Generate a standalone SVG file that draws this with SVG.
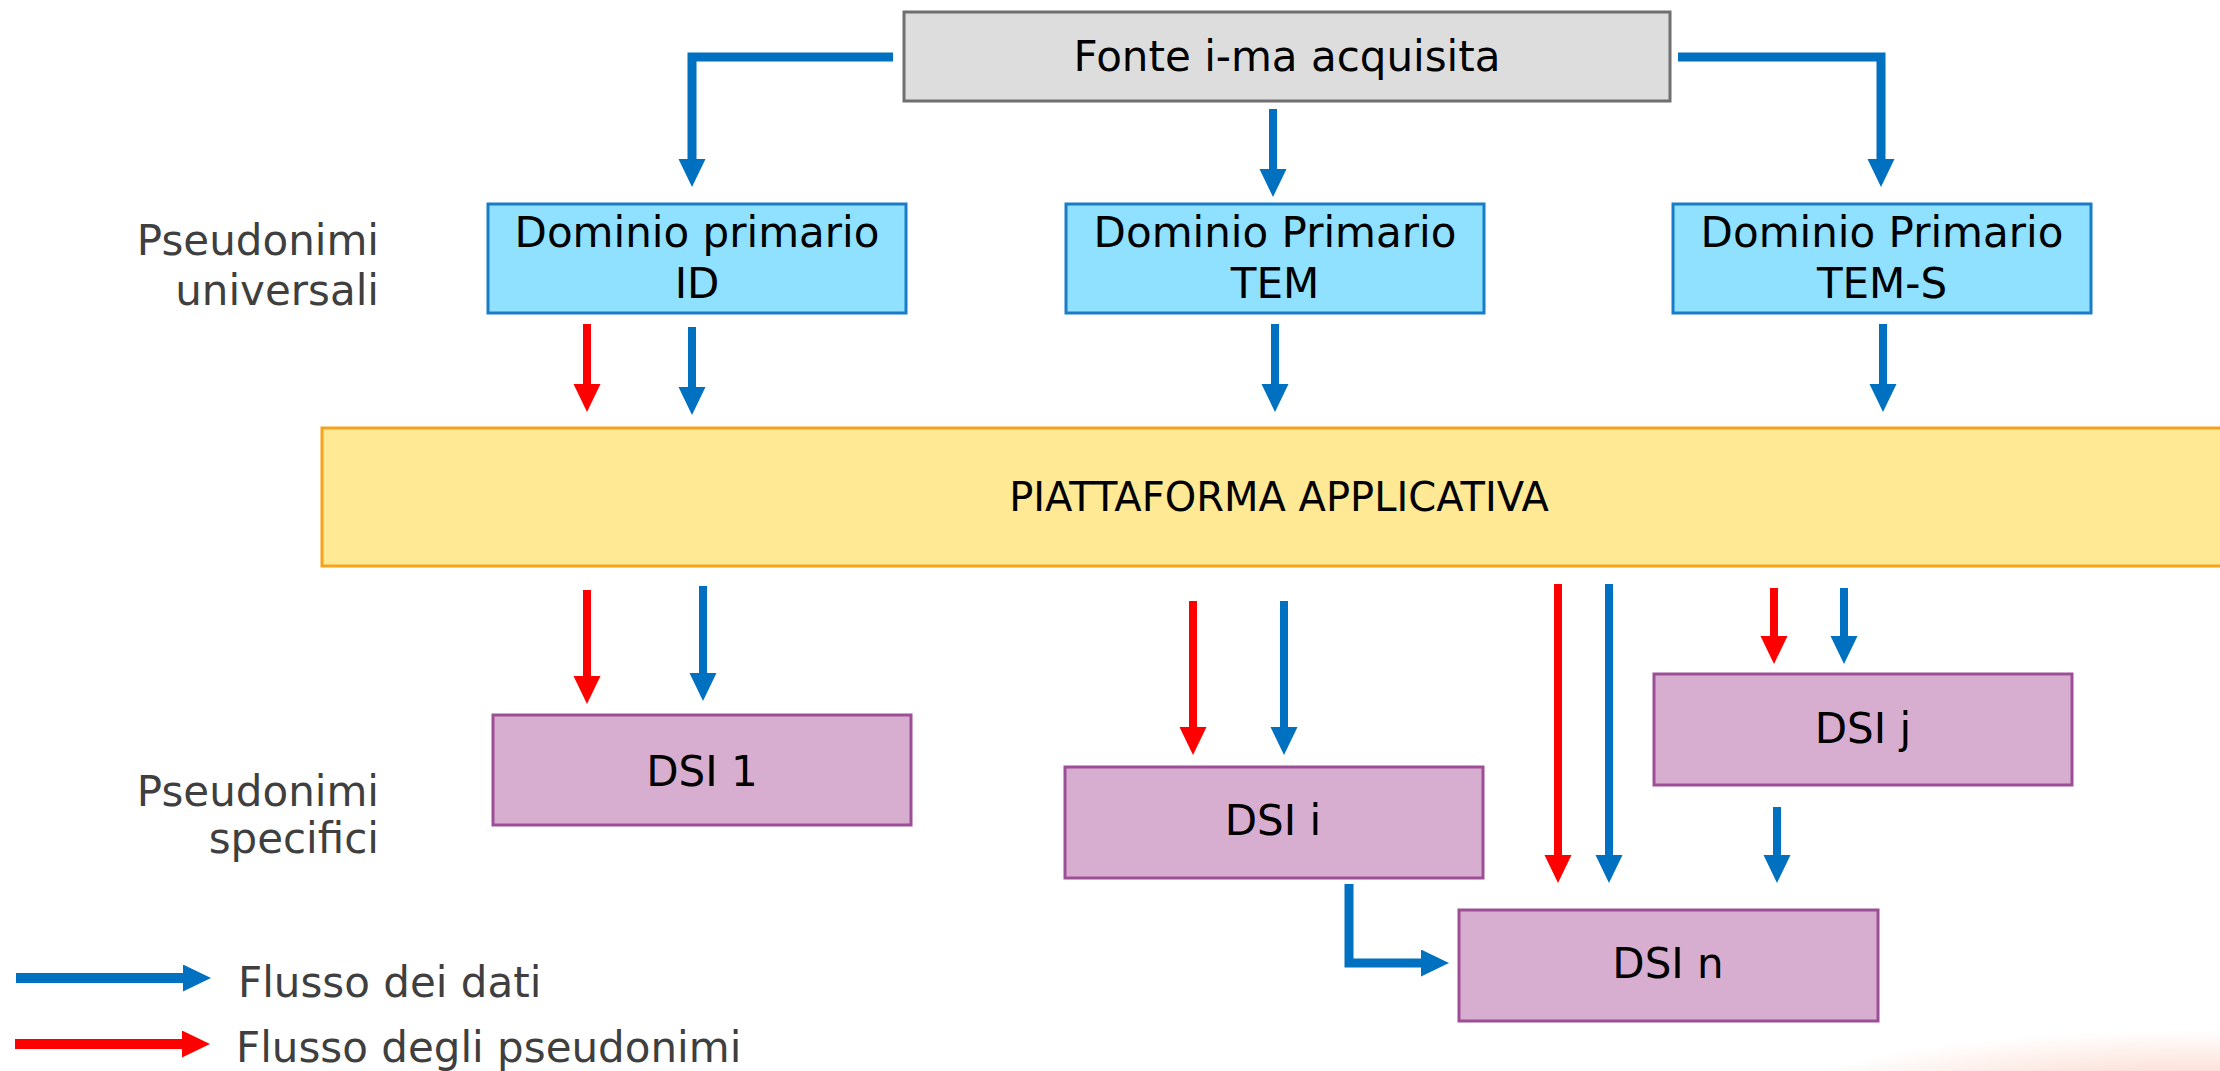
<svg xmlns="http://www.w3.org/2000/svg" width="2220" height="1071" viewBox="0 0 2220 1071">
<style>
  text { font-family: "DejaVu Sans", "Liberation Sans", sans-serif; }
  .node-text { font-size: 42px; fill: #000; text-anchor: middle; }
  .label { font-size: 42px; fill: #3f3f3f; text-anchor: end; }
  .legend { font-size: 42px; fill: #3f3f3f; }
  .src { fill: #dddddd; stroke: #6f6f6f; stroke-width: 3; }
  .dom { fill: #8fe1ff; stroke: #1a7cc6; stroke-width: 3; }
  .plat { fill: #ffe994; stroke: #f7a21b; stroke-width: 3; }
  .dsi { fill: #d8aed0; stroke: #9c4f96; stroke-width: 3; }
  .blue { stroke: #0070c0; stroke-width: 8; fill: none; marker-end: url(#ahBlue); }
  .red { stroke: #ff0000; stroke-width: 8; fill: none; marker-end: url(#ahRed); }
  .elbow { stroke-width: 9; }
</style>
<defs>
  <marker id="ahBlue" markerUnits="userSpaceOnUse" markerWidth="30" markerHeight="28" refX="1" refY="13.5" orient="auto" viewBox="0 0 30 28">
    <path d="M0,0 L28,13.5 L0,27 z" fill="#0070c0"/>
  </marker>
  <marker id="ahRed" markerUnits="userSpaceOnUse" markerWidth="30" markerHeight="28" refX="1" refY="13.5" orient="auto" viewBox="0 0 30 28">
    <path d="M0,0 L28,13.5 L0,27 z" fill="#ff0000"/>
  </marker>
  <radialGradient id="glow" cx="0.5" cy="0.5" r="0.5">
    <stop offset="0" stop-color="#f6a48a" stop-opacity="0.55"/>
    <stop offset="1" stop-color="#f6a48a" stop-opacity="0"/>
  </radialGradient>
</defs>
<rect width="2220" height="1071" fill="#ffffff"/>
<ellipse cx="2200" cy="1100" rx="420" ry="70" fill="url(#glow)"/>

<g id="label-universali">
  <text class="label" x="379" y="255">Pseudonimi</text>
  <text class="label" x="379" y="305">universali</text>
</g>
<g id="label-specifici">
  <text class="label" x="379" y="806">Pseudonimi</text>
  <text class="label" x="379" y="853">specifici</text>
</g>

<g id="fonte">
  <rect class="src" x="904" y="12" width="766" height="89"/>
  <text class="node-text" x="1287" y="71">Fonte i-ma acquisita</text>
</g>
<g id="dominio-id">
  <rect class="dom" x="488" y="204" width="418" height="109"/>
  <text class="node-text" x="697" y="247">Dominio primario</text>
  <text class="node-text" x="697" y="298">ID</text>
</g>
<g id="dominio-tem">
  <rect class="dom" x="1066" y="204" width="418" height="109"/>
  <text class="node-text" x="1275" y="247">Dominio Primario</text>
  <text class="node-text" x="1275" y="298">TEM</text>
</g>
<g id="dominio-tem-s">
  <rect class="dom" x="1673" y="204" width="418" height="109"/>
  <text class="node-text" x="1882" y="247">Dominio Primario</text>
  <text class="node-text" x="1882" y="298">TEM-S</text>
</g>
<g id="piattaforma">
  <rect class="plat" x="322" y="428" width="1920" height="138"/>
  <text class="node-text" x="1279" y="511" style="font-size:40px">PIATTAFORMA APPLICATIVA</text>
</g>
<g id="dsi-1">
  <rect class="dsi" x="493" y="715" width="418" height="110"/>
  <text class="node-text" x="702" y="786">DSI 1</text>
</g>
<g id="dsi-i">
  <rect class="dsi" x="1065" y="767" width="418" height="111"/>
  <text class="node-text" x="1273" y="835">DSI i</text>
</g>
<g id="dsi-j">
  <rect class="dsi" x="1654" y="674" width="418" height="111"/>
  <text class="node-text" x="1863" y="743">DSI j</text>
</g>
<g id="dsi-n">
  <rect class="dsi" x="1459" y="910" width="419" height="111"/>
  <text class="node-text" x="1668" y="978">DSI n</text>
</g>

<g id="connectors">
  <path class="blue elbow" d="M893,57 H692 V160"/>
  <path class="blue" d="M1273,109 V170"/>
  <path class="blue elbow" d="M1678,57 H1881 V160"/>

  <path class="red" d="M587,324 V385"/>
  <path class="blue" d="M692,327 V388"/>
  <path class="blue" d="M1275,324 V385"/>
  <path class="blue" d="M1883,324 V385"/>

  <path class="red" d="M587,590 V677"/>
  <path class="blue" d="M703,586 V674"/>
  <path class="red" d="M1193,601 V728"/>
  <path class="blue" d="M1284,601 V728"/>
  <path class="red" d="M1558,584 V856"/>
  <path class="blue" d="M1609,584 V856"/>
  <path class="red" d="M1774,588 V637"/>
  <path class="blue" d="M1844,588 V637"/>
  <path class="blue" d="M1777,807 V856"/>
  <path class="blue elbow" d="M1349,884 V963 H1422"/>
</g>

<g id="legend">
  <path class="blue" style="stroke-width:10" d="M16,978 H184"/>
  <text class="legend" x="238" y="997">Flusso dei dati</text>
  <path class="red" style="stroke-width:10" d="M15,1044 H183"/>
  <text class="legend" x="236" y="1062">Flusso degli pseudonimi</text>
</g>
</svg>
